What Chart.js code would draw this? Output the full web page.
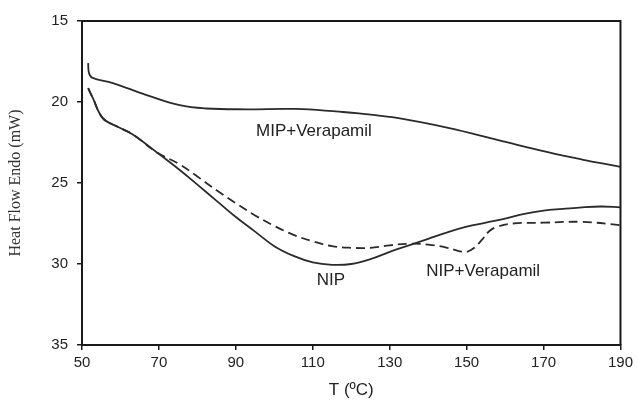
<!DOCTYPE html>
<html>
<head>
<meta charset="utf-8">
<script src="https://cdn.jsdelivr.net/npm/chart.js@4.4.1/dist/chart.umd.min.js"></script>
<style>
  html, body { margin: 0; padding: 0; background: #fff; }
  #wrap { width: 637px; height: 401px; }
</style>
</head>
<body>
<div id="wrap"><canvas id="dsc"></canvas></div>
<script>
// Heat flow curves
const mipT = [51.6, 51.8, 52.6, 58, 66.8, 75.4, 82.3, 92.7, 105.6, 116.8, 122, 132.3, 145.2, 158.2, 171.1, 180, 190];
const mipFlow = [17.6, 18.2, 18.5, 18.83, 19.57, 20.2, 20.4, 20.45, 20.43, 20.6, 20.7, 21.0, 21.6, 22.35, 23.1, 23.55, 24.0];

const nipT = [51.6, 52.8, 55.4, 59, 63.2, 69.4, 75.4, 80, 85, 90, 95, 100, 105, 110, 115, 120, 125, 130, 135, 140, 145, 150, 155, 160, 165, 170, 175, 180, 185, 190];
const nipFlow = [19.15, 19.75, 21.0, 21.5, 22.0, 23.1, 24.2, 25.1, 26.1, 27.1, 28.0, 28.9, 29.5, 29.9, 30.05, 30.0, 29.7, 29.25, 28.85, 28.45, 28.05, 27.7, 27.45, 27.2, 26.9, 26.7, 26.6, 26.5, 26.45, 26.5];

const nipVT = [51.6, 52.8, 55.4, 59, 63.2, 69.4, 75.4, 80, 85, 90, 95, 100, 105, 110, 115, 120, 125, 130, 135, 140, 145, 148, 150, 152, 154, 156, 158, 162, 170, 180, 190];
const nipVFlow = [19.15, 19.75, 21.0, 21.5, 22.0, 23.1, 23.85, 24.6, 25.45, 26.25, 27.0, 27.65, 28.2, 28.6, 28.9, 29.0, 29.0, 28.85, 28.75, 28.8, 29.0, 29.2, 29.25, 29.0, 28.5, 27.95, 27.7, 27.5, 27.45, 27.4, 27.6];

// Curve labels (text, T, heat flow)
const labelText = ['MIP+Verapamil', 'NIP', 'NIP+Verapamil'];
const labelT = [110.3, 114.7, 154.3];
const labelFlow = [21.8, 31.0, 30.46];

const toPoints = (xs, ys) => xs.map((x, i) => ({ x, y: ys[i] }));

const ink = '#2b2b2b';

// frame on top/right and the curve labels
const framePlugin = {
  id: 'frame',
  afterDatasetsDraw(chart) {
    const { ctx, chartArea: a, scales } = chart;
    ctx.save();
    ctx.strokeStyle = '#1a1a1a';
    ctx.lineWidth = 2;
    ctx.beginPath();
    ctx.moveTo(a.left, a.top);
    ctx.lineTo(a.right, a.top);
    ctx.lineTo(a.right, a.bottom);
    ctx.stroke();

    ctx.fillStyle = '#222';
    ctx.font = '17px "Liberation Sans", Arial, sans-serif';
    ctx.textAlign = 'center';
    ctx.textBaseline = 'middle';
    labelText.forEach((t, i) => {
      ctx.fillText(t, scales.x.getPixelForValue(labelT[i]), scales.y.getPixelForValue(labelFlow[i]));
    });
    ctx.restore();
  }
};

const tickFont = { family: '"Liberation Sans", Arial, sans-serif', size: 15 };

new Chart(document.getElementById('dsc'), {
  type: 'line',
  data: {
    datasets: [
      { label: 'MIP+Verapamil', data: toPoints(mipT, mipFlow), borderColor: ink, borderWidth: 1.8 },
      { label: 'NIP', data: toPoints(nipT, nipFlow), borderColor: ink, borderWidth: 1.8 },
      { label: 'NIP+Verapamil', data: toPoints(nipVT, nipVFlow), borderColor: ink, borderWidth: 1.8, borderDash: [9, 5] }
    ]
  },
  options: {
    responsive: true,
    maintainAspectRatio: false,
    animation: false,
    layout: { padding: { top: 21, right: 14, left: 0, bottom: 0 } },
    elements: {
      point: { radius: 0 },
      line: { tension: 0.4, fill: false }
    },
    scales: {
      x: {
        type: 'linear', min: 50, max: 190,
        ticks: { stepSize: 20, font: tickFont, color: '#222', padding: 4, maxRotation: 0 },
        grid: { drawOnChartArea: false, drawTicks: true, tickLength: 5, color: '#1a1a1a', lineWidth: 1.5 },
        border: { display: true, color: '#1a1a1a', width: 2 },
        title: { display: true, text: 'T (ºC)', color: '#222', font: { family: '"Liberation Sans", Arial, sans-serif', size: 17 }, padding: { top: 0, bottom: 0 } },
        afterFit: s => { s.height = 56; }
      },
      y: {
        type: 'linear', min: 15, max: 35, reverse: true,
        ticks: { stepSize: 5, font: tickFont, color: '#222', padding: 9 },
        grid: { drawOnChartArea: false, drawTicks: true, tickLength: 5, color: '#1a1a1a', lineWidth: 1.5 },
        border: { display: true, color: '#1a1a1a', width: 2 },
        title: { display: true, text: 'Heat Flow Endo (mW)', color: '#333', font: { family: '"Liberation Serif", "Times New Roman", serif', size: 16 }, padding: { top: 6, bottom: 0 } },
        afterFit: s => { s.width = 82; }
      }
    },
    plugins: {
      legend: { display: false },
      tooltip: { enabled: false }
    }
  },
  plugins: [framePlugin]
});
</script>
</body>
</html>
